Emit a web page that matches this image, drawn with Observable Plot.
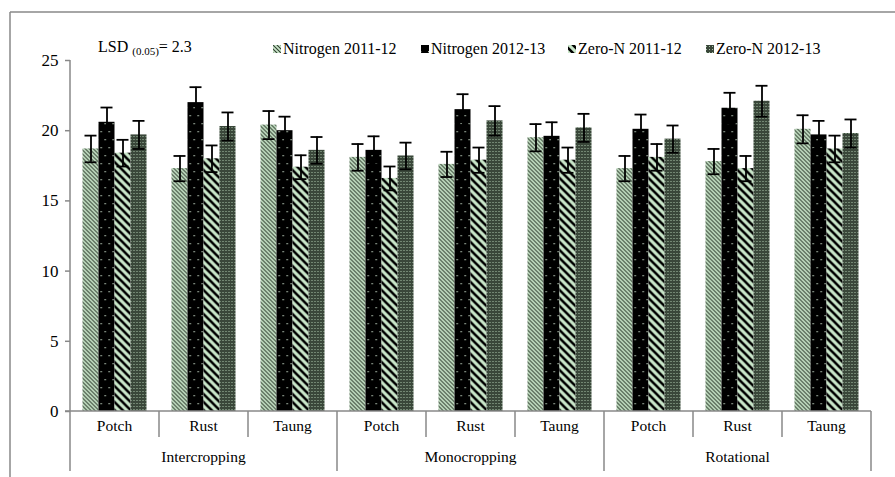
<!DOCTYPE html>
<html><head><meta charset="utf-8">
<script src="https://cdn.jsdelivr.net/npm/d3@7"></script>
<script src="https://cdn.jsdelivr.net/npm/@observablehq/plot@0.6"></script>
<style>
body{margin:0;background:#fff;}
#chart{width:895px;height:477px;}
#chart svg, #chart svg text{font-family:"Liberation Serif","Times New Roman",serif !important;}
</style>
</head><body><div id="chart"></div>
<script>
const systems = ["Intercropping", "Monocropping", "Rotational"];
const cultivars = ["Potch", "Rust", "Taung"];
const series = ["Nitrogen 2011-12", "Nitrogen 2012-13", "Zero-N 2011-12", "Zero-N 2012-13"];
const yTicks = [0, 5, 10, 15, 20, 25];
const lsdLabel = "LSD";
const lsdSub = "(0.05)";
const lsdValue = "= 2.3";

// values in order: Intercropping (Potch, Rust, Taung), Monocropping (...), Rotational (...)
const nitrogen1112 = [18.7, 17.3, 20.4, 18.1, 17.6, 19.5, 17.3, 17.8, 20.1];
const nitrogen1213 = [20.6, 22.0, 20.0, 18.6, 21.5, 19.6, 20.1, 21.6, 19.7];
const zeroN1112    = [18.4, 18.0, 17.4, 16.6, 17.9, 17.9, 18.1, 17.3, 18.7];
const zeroN1213    = [19.7, 20.3, 18.6, 18.2, 20.7, 20.2, 19.4, 22.1, 19.8];

const errN1112 = [0.95, 0.9, 1.0, 0.95, 0.9, 0.97, 0.9, 0.9, 1.0];
const errN1213 = [1.05, 1.1, 1.0, 1.0, 1.1, 1.0, 1.05, 1.1, 1.0];
const errZ1112 = [0.95, 0.95, 0.85, 0.85, 0.9, 0.9, 0.95, 0.9, 0.95];
const errZ1213 = [1.0, 1.0, 0.95, 0.95, 1.05, 1.0, 0.97, 1.1, 1.0];

const allValues = [nitrogen1112, nitrogen1213, zeroN1112, zeroN1213];
const allErrs = [errN1112, errN1213, errZ1112, errZ1213];

const cats = [];
systems.forEach(s => cultivars.forEach(c => cats.push(s + "|" + c)));

const rows = [];
cats.forEach((cat, ci) => {
  series.forEach((s, si) => {
    rows.push({cat, series: s, si, value: allValues[si][ci], err: allErrs[si][ci]});
  });
});

const font = "Liberation Serif";

const plot = Plot.plot({
  width: 895,
  height: 477,
  marginLeft: 69.5,
  marginRight: 24,
  marginTop: 60,
  marginBottom: 66,
  style: {fontFamily: font, fontSize: "15px", color: "#000", background: "#fff", overflow: "visible"},
  fx: {domain: cats, padding: 0, axis: null},
  x: {domain: series, paddingInner: 0, paddingOuter: 0.74, axis: null},
  y: {domain: [0, 25], axis: null},
  marks: [
    ...series.map((s, i) => Plot.barY(rows.filter(d => d.si === i), {
      fx: "cat", x: "series", y: "value", fill: `url(#pat${i})`
    })),
    Plot.ruleX(rows, {fx: "cat", x: "series", y1: d => d.value - d.err, y2: d => d.value + d.err, stroke: "#000", strokeWidth: 1.8}),
    Plot.tickY(rows, {fx: "cat", x: "series", y: d => d.value + d.err, stroke: "#000", strokeWidth: 1.8, insetLeft: 2, insetRight: 2}),
    Plot.tickY(rows, {fx: "cat", x: "series", y: d => d.value - d.err, stroke: "#000", strokeWidth: 1.8, insetLeft: 2, insetRight: 2}),
    Plot.axisY({ticks: yTicks, tickSize: 5, tickPadding: 7, stroke: "#888", strokeWidth: 1.5, fontSize: 17, label: null, facetAnchor: "left"})
  ]
});

document.getElementById("chart").appendChild(plot);

const svg = d3.select(plot);
const defs = svg.insert("defs", ":first-child");
const light = "#c9e6c9";
// pattern 0: light with fine dark downward diagonal
const p0 = defs.append("pattern").attr("id", "pat0").attr("patternUnits", "userSpaceOnUse").attr("width", 4).attr("height", 4);
p0.append("rect").attr("width", 4).attr("height", 4).attr("fill", light);
p0.append("path").attr("d", "M-1,-1 L5,5 M-1,3 L1,5 M3,-1 L5,1").attr("stroke", "#2f3d2f").attr("stroke-width", 1.05);
// pattern 1: black with sparse dots
const p1 = defs.append("pattern").attr("id", "pat1").attr("patternUnits", "userSpaceOnUse").attr("width", 8).attr("height", 16);
p1.append("rect").attr("width", 8).attr("height", 16).attr("fill", "#000");
p1.append("rect").attr("x", 4).attr("y", 3).attr("width", 1.3).attr("height", 1.3).attr("fill", "#b8c8b8");
p1.append("rect").attr("x", 0).attr("y", 11).attr("width", 1.3).attr("height", 1.3).attr("fill", "#b8c8b8");
// pattern 2: light with wide black downward diagonal
const p2 = defs.append("pattern").attr("id", "pat2").attr("patternUnits", "userSpaceOnUse").attr("width", 8).attr("height", 8);
p2.append("rect").attr("width", 8).attr("height", 8).attr("fill", light);
p2.append("path").attr("d", "M-2,-2 L10,10 M-2,6 L2,10 M6,-2 L10,2").attr("stroke", "#000").attr("stroke-width", 2.6);
// pattern 3: dark grey-green small grid with light dots
const p3 = defs.append("pattern").attr("id", "pat3").attr("patternUnits", "userSpaceOnUse").attr("width", 3).attr("height", 3);
p3.append("rect").attr("width", 3).attr("height", 3).attr("fill", "#3a473a");
p3.append("rect").attr("x", 1).attr("y", 1).attr("width", 1).attr("height", 1).attr("fill", "#a9c4a9");

const fx = plot.scale("fx");
const y = plot.scale("y");
const bw = fx.bandwidth;
const left = fx.apply(cats[0]);
const y0 = y.apply(0);
const yTop = y.apply(25);
const grey = "#888";

const g = svg.append("g").attr("stroke", grey).attr("stroke-width", 1.5).attr("fill", "none");
// y axis line
g.append("line").attr("x1", left).attr("x2", left).attr("y1", yTop).attr("y2", y0);
// x axis line
g.append("line").attr("x1", left - 5).attr("x2", fx.apply(cats[cats.length - 1]) + bw).attr("y1", y0).attr("y2", y0);
// separators
for (let i = 0; i <= cats.length; i++) {
  const x = i < cats.length ? fx.apply(cats[i]) : fx.apply(cats[cats.length - 1]) + bw;
  const long = i % cultivars.length === 0;
  g.append("line").attr("x1", x).attr("x2", x).attr("y1", y0).attr("y2", long ? 471 : 437);
}
// outer frame
g.append("line").attr("x1", 10).attr("x2", 895).attr("y1", 12).attr("y2", 12);
g.append("line").attr("x1", 10).attr("x2", 10).attr("y1", 12).attr("y2", 477);

const t = svg.append("g").attr("fill", "#000").attr("text-anchor", "middle");
cats.forEach(cat => {
  const [s, c] = cat.split("|");
  t.append("text").attr("x", fx.apply(cat) + bw / 2).attr("y", 431).attr("font-size", 15.5).text(c);
});
systems.forEach((s, i) => {
  const a = fx.apply(cats[i * 3]);
  t.append("text").attr("x", a + bw * 1.5).attr("y", 462).attr("font-size", 15.5).text(s);
});

// LSD annotation
const lsd = svg.append("text").attr("x", 98).attr("y", 52).attr("text-anchor", "start").attr("font-size", 16).attr("fill", "#000");
lsd.append("tspan").text(lsdLabel + " ");
lsd.append("tspan").attr("font-size", 11).attr("dy", 3).text(lsdSub);
lsd.append("tspan").attr("dy", -3).text(lsdValue);

// legend
const legX = [273, 421, 568, 706];
const leg = svg.append("g").attr("font-size", 16).attr("fill", "#000").attr("text-anchor", "start");
series.forEach((s, i) => {
  leg.append("rect").attr("x", legX[i]).attr("y", 45).attr("width", 8).attr("height", 8).attr("fill", `url(#pat${i})`);
  leg.append("text").attr("x", legX[i] + 10).attr("y", 54).text(s);
});
</script>
</body></html>
